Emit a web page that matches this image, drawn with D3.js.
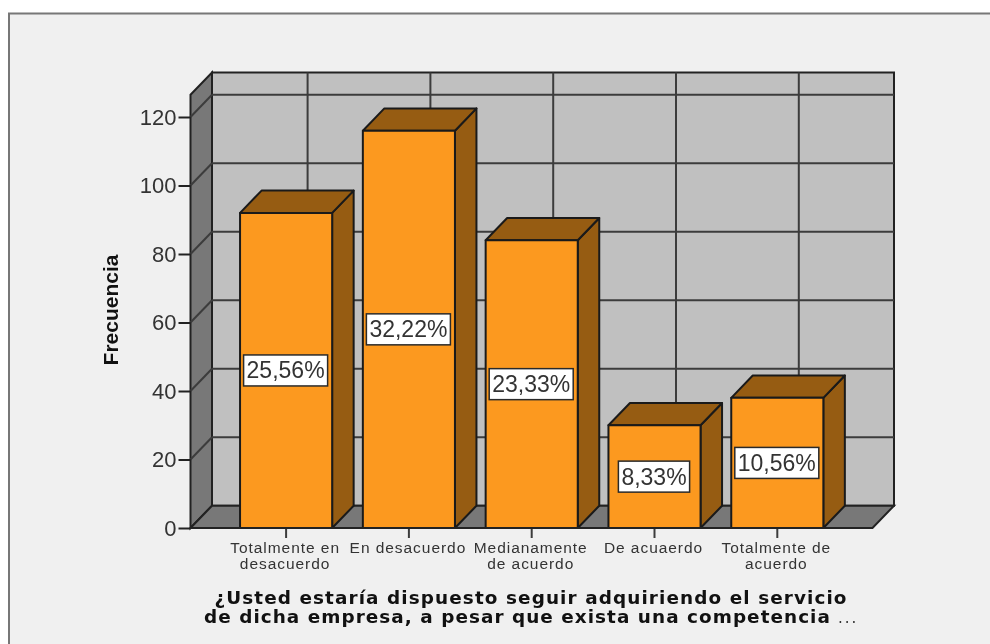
<!DOCTYPE html>
<html><head><meta charset="utf-8">
<script src="https://cdn.jsdelivr.net/npm/d3@7/dist/d3.min.js"></script>
<style>html,body{margin:0;padding:0;background:#fff;overflow:hidden}svg{display:block;filter:blur(0.45px)}</style></head>
<body><svg id="c" width="990" height="644"></svg>
<script>
const categories = ["Totalmente en\ndesacuerdo","En desacuerdo","Medianamente\nde acuerdo","De acuaerdo","Totalmente de\nacuerdo"];
const frequencies = [92,116,84,30,38];
const percentLabels = ["25,56%","32,22%","23,33%","8,33%","10,56%"];
const yTicks = [0,20,40,60,80,100,120];
const yTitle = "Frecuencia";
const xTitleLines = ["¿Usted estaría dispuesto seguir adquiriendo el servicio","de dicha empresa, a pesar que exista una competencia"];

const svg = d3.select("#c");
const W=990,H=644, dx=21.5, dy=-22.3;
const x0=190.5, x1=872.5, yBase=528;
const y = d3.scaleLinear().domain([0,120]).range([yBase,117]);
const x = d3.scaleBand().domain(categories).range([224.7,838.7]).paddingInner(0.25).paddingOuter(0.125);
const yTop = y(126.5);
const INK="#222", GRID="#3c3c3c", TXT="#333";

svg.append("rect").attr("x",9).attr("y",13.5).attr("width",W).attr("height",H).attr("fill","#f0f0f0").attr("stroke","#777").attr("stroke-width",2);

const poly=(pts,fill,sw=2,st=INK)=>svg.append("polygon").attr("points",pts.map(p=>p.join(",")).join(" ")).attr("fill",fill).attr("stroke",st).attr("stroke-width",sw).attr("stroke-linejoin","miter");
const line=(a,b,st=GRID,sw=2)=>svg.append("line").attr("x1",a[0]).attr("y1",a[1]).attr("x2",b[0]).attr("y2",b[1]).attr("stroke",st).attr("stroke-width",sw);

// walls
poly([[x0+dx,yTop+dy],[x1+dx,yTop+dy],[x1+dx,yBase+dy],[x0+dx,yBase+dy]],"#c0c0c0");
poly([[x0,yTop],[x0+dx,yTop+dy],[x0+dx,yBase+dy],[x0,yBase]],"#787878");
poly([[x0,yBase],[x0+dx,yBase+dy],[x1+dx,yBase+dy],[x1,yBase]],"#787878");

// gridlines
yTicks.slice(1).forEach(t=>{
  line([x0,y(t)],[x0+dx,y(t)+dy]);
  line([x0+dx,y(t)+dy],[x1+dx,y(t)+dy]);
});
categories.forEach(c=>{
  const cx=x(c)+x.bandwidth()/2+dx;
  line([cx,yTop+dy],[cx,yBase+dy]);
});

// bars
const bars=svg.append("g").selectAll("g").data(categories).join("g");
bars.each(function(c,i){
  const g=d3.select(this), l=x(c), r=l+x.bandwidth(), t=y(frequencies[i]);
  const p=(pts,fill)=>g.append("polygon").attr("points",pts.map(q=>q.join(",")).join(" ")).attr("fill",fill).attr("stroke","#1a1a1a").attr("stroke-width",2).attr("stroke-linejoin","round");
  p([[r,t],[r+dx,t+dy],[r+dx,yBase+dy],[r,yBase]],"#965c12");
  p([[l,t],[l+dx,t+dy],[r+dx,t+dy],[r,t]],"#965c12");
  p([[l,t],[r,t],[r,yBase],[l,yBase]],"#fc991f");
});

// value boxes
categories.forEach((c,i)=>{
  const cx=x(c)+x.bandwidth()/2, cy=(y(frequencies[i])+yBase)/2;
  const g=svg.append("g");
  const tx=g.append("text").attr("x",cx-0.5).attr("y",cy+8).attr("text-anchor","middle")
    .attr("font-family","Liberation Sans").attr("font-size",23).attr("fill",TXT).text(percentLabels[i]);
  const w=tx.node().getComputedTextLength()+6;
  g.insert("rect","text").attr("x",cx-w/2-0.5).attr("y",cy-15.5).attr("width",w).attr("height",31)
    .attr("fill","#fff").attr("stroke","#2a2a2a").attr("stroke-width",1.5);
});

// axes
const gy=svg.append("g").attr("transform",`translate(${x0},0)`)
  .call(d3.axisLeft(y).tickValues(yTicks).tickSize(12).tickPadding(2).tickFormat(d3.format("d")));
gy.select(".domain").remove();
gy.selectAll("line").attr("stroke",INK).attr("stroke-width",2);
gy.selectAll("text").attr("font-family","Liberation Sans").attr("font-size",22).attr("fill",TXT);

const gx=svg.append("g").attr("transform",`translate(0,${yBase})`)
  .call(d3.axisBottom(x).tickSize(10).tickFormat(""));
gx.select(".domain").remove();
gx.selectAll("line").attr("stroke",GRID).attr("stroke-width",2);
gx.selectAll(".tick").each(function(c){
  const t=d3.select(this).select("text").text(null).attr("y",0).attr("dy",null)
    .attr("font-family","Liberation Sans").attr("font-size",15.5).attr("letter-spacing",0.95).attr("fill",TXT);
  c.split("\n").forEach((s,i)=>t.append("tspan").attr("x",-1).attr("y",25+i*15.5).text(s));
});
line([x0,yBase],[x1,yBase],INK,2);

// titles
svg.append("text").attr("transform","translate(118,310) rotate(-90)").attr("text-anchor","middle")
  .attr("font-family","Liberation Sans").attr("font-weight","bold").attr("font-size",21).attr("fill","#111").text(yTitle);
const tf={family:"DejaVu Sans"};
svg.append("text").attr("x",531).attr("y",604).attr("text-anchor","middle").attr("font-family",tf.family).attr("font-weight","bold").attr("font-size",18.4).attr("letter-spacing",1.1).attr("fill","#111").text(xTitleLines[0]);
svg.append("text").attr("x",204).attr("y",623).attr("font-family",tf.family).attr("font-weight","bold").attr("font-size",18.4).attr("letter-spacing",1.05).attr("fill","#111").text(xTitleLines[1]);
svg.append("text").attr("x",838).attr("y",623).attr("font-family",tf.family).attr("font-size",15).attr("letter-spacing",2).attr("fill","#333").text("...");
</script></body></html>
